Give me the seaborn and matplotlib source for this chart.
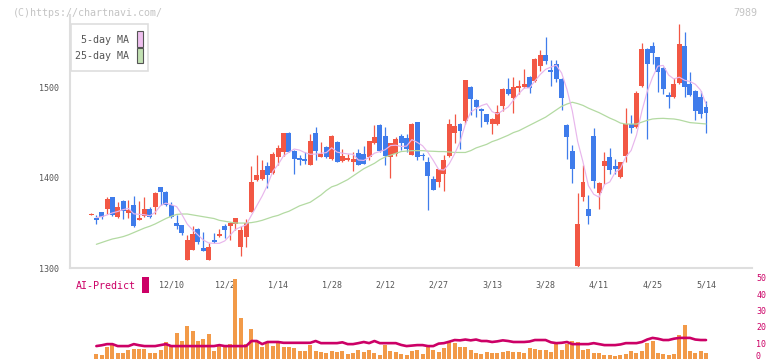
#!/usr/bin/env python3
# coding=utf-8
"""Candlestick chart with 5/25-day MA and a volume / AI-Predict panel."""

import matplotlib
matplotlib.use("Agg")
from matplotlib import pyplot as plt
from matplotlib.patches import Rectangle
from matplotlib.transforms import blended_transform_factory
import numpy as np
import pandas as pd
import seaborn as sns

# daily prices (index 0 .. 115)
opens = [1359, 1356, 1362, 1366, 1379, 1357, 1374, 1361, 1370, 1353,
         1358, 1366, 1368, 1390, 1384, 1370, 1350, 1348, 1309, 1320,
         1343, 1322, 1309, 1331, 1336, 1347, 1347, 1349, 1323, 1335,
         1362, 1398, 1399, 1413, 1405, 1423, 1429, 1450, 1430, 1422,
         1421, 1414, 1450, 1423, 1434, 1421, 1440, 1419, 1420, 1418,
         1427, 1426, 1423, 1439, 1458, 1446, 1423, 1426, 1446, 1444,
         1425, 1462, 1425, 1417, 1399, 1395, 1404, 1424, 1450, 1460,
         1463, 1500, 1486, 1476, 1470, 1459, 1460, 1479, 1498, 1488,
         1499, 1500, 1511, 1507, 1524, 1536, 1519, 1526, 1509, 1458,
         1430, 1302, 1379, 1366, 1446, 1383, 1413, 1423, 1413, 1401,
         1424, 1459, 1456, 1501, 1542, 1546, 1533, 1521, 1491, 1489,
         1505, 1546, 1504, 1496, 1489, 1478]
highs = [1361, 1359, 1362, 1379, 1379, 1373, 1376, 1376, 1380, 1374,
         1379, 1368, 1384, 1390, 1385, 1373, 1359, 1348, 1337, 1347,
         1345, 1340, 1328, 1339, 1343, 1349, 1351, 1356, 1347, 1355,
         1413, 1425, 1420, 1418, 1428, 1436, 1450, 1451, 1431, 1425,
         1428, 1448, 1456, 1440, 1435, 1447, 1441, 1432, 1426, 1428,
         1432, 1435, 1441, 1458, 1459, 1456, 1439, 1445, 1448, 1448,
         1461, 1462, 1427, 1423, 1402, 1410, 1425, 1465, 1470, 1461,
         1508, 1501, 1487, 1477, 1471, 1466, 1480, 1499, 1510, 1511,
         1508, 1520, 1512, 1532, 1541, 1556, 1530, 1530, 1510, 1459,
         1436, 1383, 1414, 1381, 1455, 1395, 1428, 1433, 1421, 1418,
         1477, 1469, 1496, 1549, 1543, 1550, 1534, 1522, 1495, 1510,
         1570, 1561, 1517, 1497, 1496, 1485]
lows = [1359, 1349, 1354, 1360, 1358, 1356, 1354, 1356, 1346, 1353,
        1357, 1356, 1360, 1370, 1369, 1356, 1343, 1337, 1309, 1320,
        1327, 1319, 1309, 1328, 1335, 1333, 1331, 1342, 1314, 1324,
        1362, 1397, 1398, 1389, 1404, 1414, 1424, 1428, 1404, 1414,
        1415, 1414, 1420, 1423, 1422, 1420, 1417, 1418, 1419, 1407,
        1414, 1415, 1420, 1437, 1429, 1414, 1400, 1424, 1431, 1428,
        1425, 1420, 1420, 1364, 1386, 1390, 1385, 1423, 1438, 1432,
        1459, 1469, 1467, 1456, 1459, 1448, 1458, 1474, 1492, 1472,
        1493, 1499, 1494, 1506, 1518, 1526, 1501, 1506, 1475, 1421,
        1394, 1301, 1374, 1349, 1389, 1366, 1393, 1404, 1404, 1400,
        1418, 1450, 1455, 1500, 1443, 1526, 1495, 1493, 1477, 1488,
        1504, 1489, 1490, 1464, 1466, 1450]
closes = [1360, 1353, 1357, 1377, 1359, 1368, 1363, 1364, 1347, 1356,
          1366, 1357, 1383, 1384, 1370, 1357, 1347, 1339, 1331, 1338,
          1329, 1319, 1323, 1329, 1338, 1342, 1350, 1356, 1342, 1350,
          1395, 1403, 1409, 1403, 1426, 1433, 1450, 1429, 1421, 1420,
          1419, 1441, 1430, 1426, 1423, 1446, 1417, 1424, 1422, 1421,
          1414, 1415, 1441, 1445, 1430, 1424, 1438, 1443, 1438, 1432,
          1460, 1423, 1424, 1402, 1387, 1410, 1420, 1459, 1457, 1452,
          1508, 1487, 1478, 1474, 1462, 1465, 1473, 1498, 1493, 1500,
          1501, 1504, 1499, 1531, 1536, 1529, 1517, 1509, 1488, 1445,
          1410, 1349, 1395, 1358, 1397, 1394, 1419, 1409, 1410, 1418,
          1459, 1455, 1494, 1542, 1526, 1538, 1517, 1498, 1489, 1504,
          1548, 1500, 1491, 1474, 1471, 1472]

# moving averages, volume and AI-Predict (index 1 .. 115)
ma5 = [1356, 1357, 1359, 1361.2, 1362.8, 1364.8, 1366.2, 1360.2, 1359.6,
       1359.2, 1358, 1361.8, 1369.2, 1372, 1370.2, 1368.2, 1359.4, 1348.8,
       1342.4, 1336.8, 1331.2, 1328, 1327.6, 1327.6, 1330.2, 1336.4, 1343,
       1345.6, 1348, 1358.6, 1369.2, 1379.8, 1392, 1407.2, 1414.8, 1424.2,
       1428.2, 1431.8, 1430.6, 1427.8, 1426, 1426.2, 1427.2, 1427.8, 1433.2,
       1428.4, 1427.2, 1426.4, 1426, 1419.6, 1419.2, 1422.6, 1427.2, 1429,
       1431, 1435.6, 1436, 1434.6, 1435, 1442.2, 1439.2, 1435.4, 1428.2,
       1419.2, 1409.2, 1408.6, 1415.6, 1426.6, 1439.6, 1459.2, 1472.6,
       1476.4, 1479.8, 1481.8, 1473.2, 1470.4, 1474.4, 1478.2, 1485.8, 1493,
       1499.2, 1499.4, 1507, 1514.2, 1519.8, 1522.4, 1524.4, 1515.8, 1497.6,
       1473.8, 1440.2, 1417.4, 1391.4, 1381.8, 1378.6, 1392.6, 1395.4,
       1405.8, 1410, 1423, 1430.2, 1447.2, 1473.6, 1495.2, 1511, 1523.4,
       1524.2, 1513.6, 1509.2, 1511.2, 1507.8, 1506.4, 1503.4, 1496.8, 1481.6]
ma25 = [1326.5, 1328.5, 1330.5, 1332.4, 1333.6, 1335, 1337, 1339.5, 1342,
        1344.5, 1346.5, 1349, 1352, 1355, 1357.5, 1359.5, 1360, 1360, 1359,
        1358, 1357, 1356, 1355, 1353, 1352, 1351, 1350, 1350, 1350, 1350.5,
        1351.5, 1353, 1355, 1357, 1358.5, 1361, 1363, 1366, 1369, 1371, 1373,
        1377, 1381, 1386, 1390, 1392, 1395, 1398, 1402, 1406, 1410, 1413,
        1416, 1420, 1423, 1425, 1427, 1429, 1429.5, 1430, 1430, 1430, 1429.5,
        1429.3, 1429, 1429, 1428.5, 1428, 1428, 1428, 1430, 1433, 1435, 1437,
        1440, 1442, 1444.5, 1447, 1450, 1452, 1455, 1458, 1461, 1464, 1467,
        1471, 1475, 1479, 1481.5, 1483.5, 1482, 1480, 1477, 1474.5, 1472,
        1469, 1466, 1463.5, 1460.5, 1459.4, 1459.4, 1459.4, 1461.5, 1463.5,
        1465, 1465.5, 1465.7, 1465.3, 1465, 1464, 1462.5, 1461, 1460.5, 1460,
        1459.5]
volume = [3.4, 2.8, 7.6, 8.9, 4.0, 4.0, 5.8, 6.4, 6.4, 6.4, 4.0, 4.0, 5.8,
          10.7, 8.3, 16.2, 11.3, 20.5, 17.4, 11.3, 12.5, 15.6, 5.2, 8.3, 7.6,
          9.5, 49.2, 25.4, 9.5, 18.6, 10.7, 7.6, 10.1, 8.3, 10.1, 7.6, 7.6,
          7.0, 5.2, 5.2, 8.9, 5.2, 4.6, 4.0, 5.2, 4.6, 5.2, 3.4, 4.0, 5.8,
          4.6, 5.8, 4.0, 2.8, 8.9, 5.2, 4.6, 3.4, 2.8, 5.2, 5.8, 3.4, 8.3,
          5.8, 4.6, 7.0, 10.7, 10.1, 7.6, 7.6, 5.8, 4.0, 3.4, 4.6, 4.0, 4.0,
          4.6, 5.2, 4.6, 4.6, 4.0, 7.0, 6.4, 5.8, 5.8, 4.6, 10.1, 5.8, 9.5,
          11.3, 10.7, 5.8, 6.4, 4.0, 4.0, 2.8, 2.8, 2.1, 2.8, 3.4, 5.2, 4.0,
          5.2, 10.1, 11.3, 4.0, 3.4, 2.8, 3.4, 14.9, 21.1, 5.2, 4.0, 5.2, 4.0]
ai_predict = [8.2, 8.7, 9.4, 9.4, 8.2, 8.2, 8.2, 9.4, 8.7, 8.2, 8.2, 8.2,
              8.8, 9.4, 8.2, 8.2, 8.2, 8.2, 8.2, 8.2, 8.2, 8.2, 8.2, 8.8,
              8.2, 8.2, 8.2, 8.2, 8.2, 11.3, 11.3, 9.4, 10.7, 10.7, 10.7,
              10.2, 10.2, 10.2, 10.2, 10.2, 10.2, 11.3, 10.0, 10.0, 10.0,
              10.0, 10.5, 9.4, 9.4, 10.0, 10.7, 10.0, 11.3, 10.0, 10.0, 10.0,
              10.0, 8.9, 8.2, 8.5, 8.8, 8.8, 8.2, 8.2, 9.7, 10.0, 10.9, 11.9,
              11.7, 12.2, 11.7, 12.2, 11.3, 11.3, 10.7, 11.1, 11.7, 11.3,
              10.7, 10.7, 10.7, 11.0, 11.9, 11.9, 11.9, 10.5, 10.0, 10.2,
              10.7, 9.4, 9.4, 9.4, 9.4, 10.0, 9.4, 8.8, 8.8, 8.8, 9.2, 10.0,
              10.0, 10.0, 10.7, 12.2, 13.2, 12.7, 11.9, 11.9, 12.7, 13.2,
              13.2, 13.2, 12.2, 11.9, 11.9]

date_idx = [15, 25, 35, 45, 55, 65, 75, 85, 95, 105, 115]
date_labels = ["12/10", "12/2", "1/14", "1/28", "2/12", "2/27", "3/13",
               "3/28", "4/11", "4/25", "5/14"]
price_ticks = [1300, 1400, 1500]
volume_ticks = [10, 20, 30, 40, 50]

W, H = 772, 361
RED, BLUE = "#f25744", "#3f7ceb"
MAGENTA = "#cc0066"
GREY_TEXT = "#555555"
AXIS_GREY = "#dedede"


def px_rect(left, top, right, bottom):
    """Axes rectangle from pixel coordinates (origin top-left)."""
    return [left / W, 1 - bottom / H, (right - left) / W, (bottom - top) / H]


sns.set_theme(style="white")
plt.rcParams["font.family"] = ["DejaVu Sans Mono", "DejaVu Sans"]

fig = plt.figure(figsize=(W / 100, H / 100), dpi=100)
ax = fig.add_axes(px_rect(70, 15, 752, 268.3))
axv = fig.add_axes(px_rect(70, 277.7, 752, 361))

# --- candles ---
df = pd.DataFrame({"open": opens, "high": highs, "low": lows,
                   "close": closes})
df["idx"] = np.arange(len(df))
up = df["close"] >= df["open"]
colors = np.where(up, RED, BLUE)
body_bottom = df[["open", "close"]].min(axis=1)
body_height = (df["close"] - df["open"]).abs().clip(lower=1.5)

ax.vlines(df["idx"], df["low"], df["high"], colors=colors, linewidth=0.9,
          zorder=2)
ax.bar(df["idx"], body_height, bottom=body_bottom, width=0.93,
       color=colors, linewidth=0, zorder=3)

ma_idx = np.arange(1, len(df))
sns.lineplot(x=ma_idx, y=ma25, ax=ax, color="#b3daa2", linewidth=0.9,
             zorder=4)
sns.lineplot(x=ma_idx, y=ma5, ax=ax, color="#e8b6ec", linewidth=0.85,
             zorder=4)

xmin, xmax = -3.93, 123.6
ax.set_xlim(xmin, xmax)
ax.set_ylim(1300, 1579.9)
ax.set_xticks(np.arange(xmin, xmax + 1, 11.59))
ax.set_xticklabels([])
ax.set_yticks(price_ticks)
ax.set_yticklabels([str(t) for t in price_ticks])
ax.set_xlabel("")
ax.set_ylabel("")
ax.tick_params(axis="both", direction="inout", length=6.5, width=1.2,
               color=AXIS_GREY, labelsize=6, labelcolor=GREY_TEXT)
ax.tick_params(axis="y", pad=4.4)
for side in ["top", "right"]:
    ax.spines[side].set_visible(False)
for side in ["left", "bottom"]:
    ax.spines[side].set_color(AXIS_GREY)
    ax.spines[side].set_linewidth(1.5)

trans = blended_transform_factory(ax.transData, fig.transFigure)
for i, lab in zip(date_idx, date_labels):
    ax.text(i, 1 - 285 / H, lab, transform=trans, ha="center",
            va="center", fontsize=6, color=GREY_TEXT, clip_on=False)

# --- volume / AI-Predict ---
vol_idx = np.arange(1, len(df))
sns.barplot(x=vol_idx, y=volume, ax=axv, native_scale=True,
            color="#f29a48", saturation=1, width=0.75, errorbar=None,
            linewidth=0)
sns.lineplot(x=vol_idx, y=ai_predict, ax=axv, color=MAGENTA,
             linewidth=1.9)
axv.set_xlim(xmin, xmax)
axv.set_ylim(-0.92, 50)
axv.set_xticks([])
axv.set_xlabel("")
axv.set_ylabel("")
axv.yaxis.tick_right()
axv.set_yticks(volume_ticks)
axv.set_yticklabels([str(t) for t in volume_ticks])
axv.tick_params(axis="y", length=0, pad=3, labelsize=6,
                labelcolor=MAGENTA)
for side in axv.spines:
    axv.spines[side].set_visible(False)
axv.patch.set_alpha(0)
# the zero label sits at the very bottom edge of the image
fig.text(756 / W, 1 - 356.5 / H, "0", fontsize=6, color=MAGENTA,
         ha="left", va="center")

# --- header, legend, labels ---
fig.text(13 / W, 1 - 12.5 / H, "(C)https://chartnavi.com/", fontsize=7.2,
         color="#c4c4c4", va="center", ha="left")
fig.text(757 / W, 1 - 12.5 / H, "7989", fontsize=7.2, color="#c4c4c4",
         va="center", ha="right")

fig.patches.append(Rectangle((70.7 / W, 1 - 71 / H), 77.6 / W, 47 / H,
                             transform=fig.transFigure, facecolor="white",
                             edgecolor=AXIS_GREY, linewidth=1.2, zorder=5))
for top, bottom, fill, label, ty in [(31, 46.7, "#efc0ef", "5-day MA", 40),
                                     (48.3, 63.3, "#c2e1b3", "25-day MA", 56)]:
    fig.patches.append(Rectangle((136.7 / W, 1 - bottom / H), 6 / W,
                                 (bottom - top) / H,
                                 transform=fig.transFigure, facecolor=fill,
                                 edgecolor="#555555", linewidth=0.8,
                                 zorder=6))
    fig.text(129.3 / W, 1 - ty / H, label, fontsize=7.2, color=GREY_TEXT,
             ha="right", va="center", zorder=7)

fig.text(76 / W, 1 - 286 / H, "AI-Predict", fontsize=7.2, color=MAGENTA,
         ha="left", va="center")
fig.patches.append(Rectangle((142 / W, 1 - 292.7 / H), 7 / W, 16 / H,
                             transform=fig.transFigure, facecolor=MAGENTA,
                             edgecolor="none", zorder=6))

fig.savefig("out.png", dpi=100)
